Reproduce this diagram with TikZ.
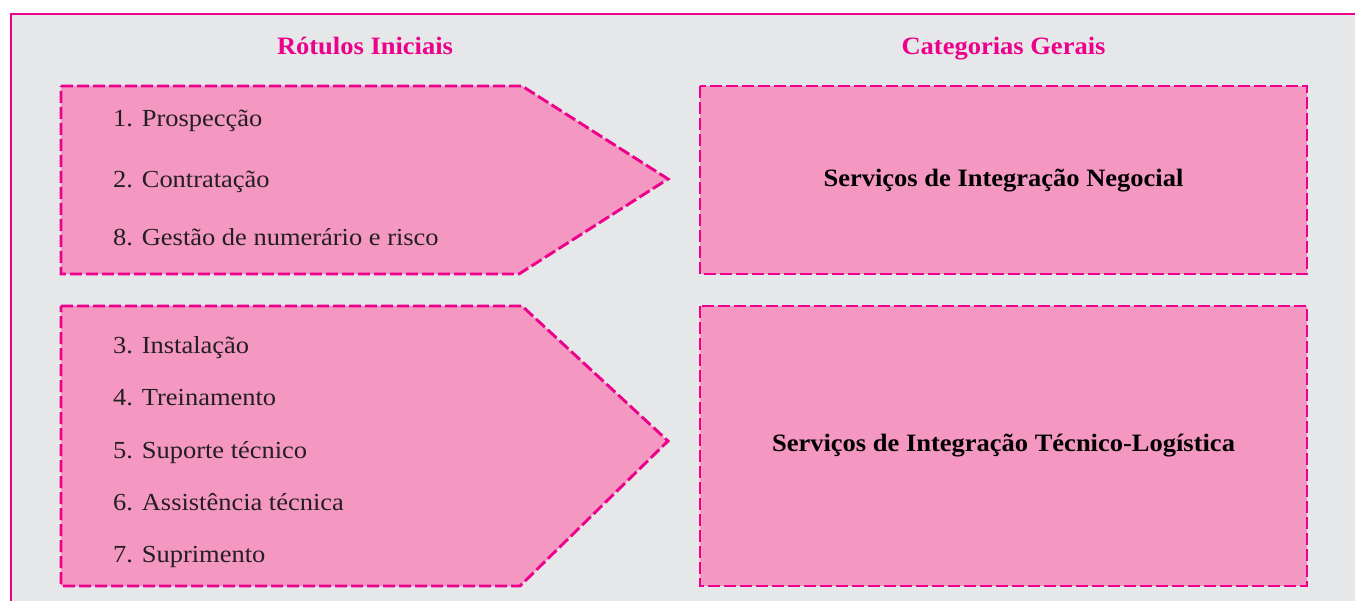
\documentclass[tikz,border=0pt]{standalone}
\usepackage{fontspec}
\usepackage{graphicx}
\setmainfont{Liberation Serif}
\definecolor{mag}{HTML}{EC008C}
\definecolor{pinkfill}{HTML}{F497C1}
\definecolor{bggray}{HTML}{E6E7E8}
\definecolor{itemtext}{HTML}{231F20}
\newcommand{\stretchtxt}[2]{\scalebox{#1}[1]{#2}}
\tikzset{
  shapebox/.style={draw=mag, fill=pinkfill, line width=2.9pt, dash pattern=on 12pt off 4pt},
  titletext/.style={anchor=base, text=mag, font=\fontsize{25}{30}\selectfont\bfseries, inner sep=0pt},
  itemlabel/.style={anchor=base west, text=itemtext, font=\fontsize{24.5}{30}\selectfont, inner sep=0pt},
  catlabel/.style={anchor=base, text=black, font=\fontsize{25}{30}\selectfont\bfseries, inner sep=0pt}
}
\begin{document}
\begin{tikzpicture}[x=1pt,y=-1pt]
\useasboundingbox (0,0) rectangle (1355,601);
\clip (0,0) rectangle (1355,601);
\fill[white] (0,0) rectangle (1355,601);
\draw[draw=mag, fill=bggray, line width=2.5pt] (11,14) rectangle (1370,620);
% titles
\node[titletext] (t1) at (365,55) {\stretchtxt{1.06}{Rótulos Iniciais}};
\node[titletext] (t2) at (1003.5,55) {\stretchtxt{1.06}{Categorias Gerais}};
% top arrow shape
\draw[shapebox] (61,86) -- (522,86) -- (668,179) -- (519,274) -- (61,274) -- cycle;
\draw[shapebox] (700,86) rectangle (1307,274);
% bottom arrow shape
\draw[shapebox] (61,306) -- (522,306) -- (668,441) -- (520,586) -- (61,586) -- cycle;
\draw[shapebox] (700,306) rectangle (1307,586);
% items
\node[itemlabel] (i1) at (113,127) {\stretchtxt{1.08}{1. Prospecção}};
\node[itemlabel] (i2) at (113,188) {\stretchtxt{1.08}{2. Contratação}};
\node[itemlabel] (i8) at (113,246) {\stretchtxt{1.08}{8. Gestão de numerário e risco}};
\node[itemlabel] (i3) at (113,354) {\stretchtxt{1.08}{3. Instalação}};
\node[itemlabel] (i4) at (113,406) {\stretchtxt{1.08}{4. Treinamento}};
\node[itemlabel] (i5) at (113,458) {\stretchtxt{1.08}{5. Suporte técnico}};
\node[itemlabel] (i6) at (113,510) {\stretchtxt{1.08}{6. Assistência técnica}};
\node[itemlabel] (i7) at (113,562) {\stretchtxt{1.08}{7. Suprimento}};
% categories
\node[catlabel] (c1) at (1003.5,187) {\stretchtxt{1.06}{Serviços de Integração Negocial}};
\node[catlabel] (c2) at (1003.5,451) {\stretchtxt{1.06}{Serviços de Integração Técnico-Logística}};
\end{tikzpicture}
\end{document}
